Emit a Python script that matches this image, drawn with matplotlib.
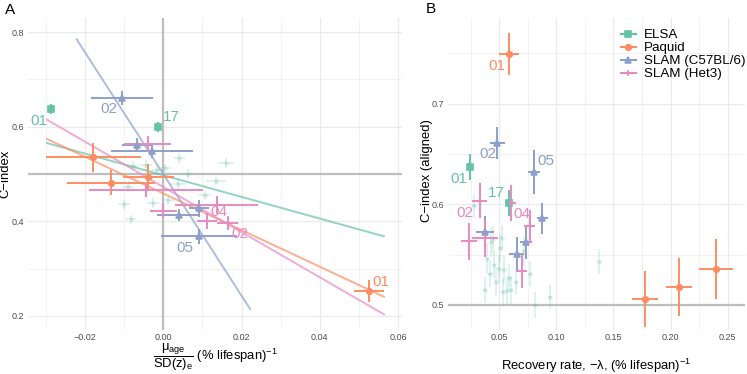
import matplotlib
matplotlib.use("Agg")
import matplotlib.pyplot as plt
from matplotlib.lines import Line2D
import numpy as np

plt.rcParams['font.family'] = ['Liberation Sans', 'DejaVu Sans']
plt.rcParams['mathtext.fontset'] = 'custom'
plt.rcParams['mathtext.rm'] = 'Liberation Sans'
plt.rcParams['mathtext.it'] = 'Liberation Sans:italic'
plt.rcParams['mathtext.bf'] = 'Liberation Sans:bold'
plt.rcParams['axes.unicode_minus'] = True

# ---------------- data ----------------
cohorts = ["ELSA", "Paquid", "SLAM (C57BL/6)", "SLAM (Het3)"]
colors = ["#66c2a5", "#fc8d62", "#8da0cb", "#e78ac3"]
markers = ["s", "o", "^", "+"]

# Panel A: highlighted points (x = mu_age/SD(z)_e, y = C-index)
A_elsa_x = [-0.0287, -0.0014]
A_elsa_xerr = [0.0004, 0.0004]
A_elsa_y = [0.637, 0.600]
A_elsa_yerr = [0.011, 0.011]
A_elsa_lab = ["01", "17"]

A_paq_x = [-0.0179, -0.0038, -0.0134, 0.0525]
A_paq_xerr = [0.0121, 0.0064, 0.0112, 0.0038]
A_paq_y = [0.535, 0.494, 0.482, 0.253]
A_paq_yerr = [0.030, 0.028, 0.026, 0.023]
A_paq_lab = ["", "", "", "01"]

A_c57_x = [-0.0106, -0.0068, -0.0030, 0.0091, 0.0039, 0.0091]
A_c57_xerr = [0.0079, 0.0037, 0.0105, 0.0025, 0.0054, 0.0098]
A_c57_y = [0.6605, 0.561, 0.549, 0.4275, 0.413, 0.368]
A_c57_yerr = [0.0155, 0.015, 0.016, 0.0175, 0.013, 0.0165]
A_c57_lab = ["02", "", "", "", "", "05"]

A_het_x = [-0.0040, -0.0045, 0.0000, 0.0136, 0.0111, 0.0164]
A_het_xerr = [0.0060, 0.0146, 0.0034, 0.0105, 0.0025, 0.0026]
A_het_y = [0.563, 0.466, 0.422, 0.435, 0.401, 0.396]
A_het_yerr = [0.0175, 0.015, 0.016, 0.0195, 0.0165, 0.015]
A_het_lab = ["", "", "", "04", "", "02"]

# Panel A: faint (non-highlighted) ELSA variables
A_bg_x = [0.0041, 0.0160, 0.0064, 0.0135, -0.0045, 0.0004, -0.0090, -0.0017,
          0.0038, 0.0107, -0.0026, -0.0100, -0.0083, 0.0011, -0.0077]
A_bg_y = [0.533, 0.523, 0.500, 0.485, 0.519, 0.512, 0.472, 0.508,
          0.479, 0.455, 0.439, 0.436, 0.404, 0.444, 0.517]
A_bg_xerr = [0.0015, 0.0020, 0.0020, 0.0025, 0.0015, 0.0015, 0.0015, 0.0015,
             0.0020, 0.0015, 0.0015, 0.0015, 0.0012, 0.0015, 0.0015]
A_bg_yerr = [0.011, 0.010, 0.011, 0.008, 0.010, 0.010, 0.010, 0.010,
             0.010, 0.010, 0.010, 0.010, 0.009, 0.010, 0.010]

# Panel A: regression lines (slope, intercept, x-range)
A_fit_slope = [-2.29, -3.875, -12.87, -4.78]
A_fit_icpt = [0.4973, 0.4588, 0.4997, 0.4726]
A_fit_xmin = [-0.030, -0.030, -0.0223, -0.030]
A_fit_xmax = [0.0566, 0.0566, 0.0223, 0.0566]

# Panel B: highlighted points (x = recovery rate, y = aligned C-index)
B_elsa_x = [0.0243, 0.0585]
B_elsa_xerr = [0.0008, 0.0008]
B_elsa_y = [0.637, 0.601]
B_elsa_yerr = [0.013, 0.013]
B_elsa_lab = ["01", "17"]

B_paq_x = [0.0588, 0.1776, 0.2074, 0.2398]
B_paq_xerr = [0.0087, 0.0114, 0.0113, 0.0150]
B_paq_y = [0.749, 0.506, 0.5176, 0.5357]
B_paq_yerr = [0.021, 0.028, 0.0287, 0.0295]
B_paq_lab = ["01", "", "", ""]

B_c57_x = [0.0483, 0.0807, 0.0877, 0.0375, 0.0734, 0.0652]
B_c57_xerr = [0.0065, 0.0051, 0.0047, 0.0077, 0.0055, 0.0068]
B_c57_y = [0.6606, 0.632, 0.586, 0.572, 0.562, 0.551]
B_c57_yerr = [0.016, 0.022, 0.0155, 0.016, 0.016, 0.016]
B_c57_lab = ["02", "05", "", "", "", ""]

B_het_x = [0.0331, 0.0602, 0.0769, 0.0375, 0.0237, 0.0696]
B_het_xerr = [0.0064, 0.0047, 0.0048, 0.0112, 0.0066, 0.0050]
B_het_y = [0.6036, 0.601, 0.578, 0.566, 0.563, 0.534]
B_het_yerr = [0.0175, 0.018, 0.0165, 0.018, 0.018, 0.017]
B_het_lab = ["02", "", "04", "", "", ""]

# Panel B: faint ELSA variables
B_bg_x = [0.0280, 0.0433, 0.0512, 0.0521, 0.0398, 0.0419, 0.0500, 0.0540, 0.0470,
          0.0375, 0.0565, 0.0608, 0.0530, 0.0769, 0.0646, 0.0716, 0.0813, 0.0944,
          0.1376, 0.0450, 0.0590, 0.0455]
B_bg_y = [0.598, 0.562, 0.556, 0.566, 0.546, 0.531, 0.536, 0.535, 0.523,
          0.515, 0.514, 0.515, 0.513, 0.531, 0.523, 0.553, 0.500, 0.508,
          0.543, 0.565, 0.527, 0.540]
B_bg_xerr = [0.0015] * 22
B_bg_yerr = [0.012, 0.014, 0.014, 0.013, 0.015, 0.013, 0.014, 0.014, 0.014,
             0.013, 0.014, 0.014, 0.014, 0.013, 0.013, 0.014, 0.013, 0.012,
             0.012, 0.013, 0.014, 0.013]

# label offsets (pixels) for annotated points
A_lab_off = {("ELSA", "01"): (-4, -12, "right"), ("ELSA", "17"): (5, 10, "left"),
             ("SLAM (C57BL/6)", "02"): (-5, -11, "right"),
             ("SLAM (C57BL/6)", "05"): (-6, -12, "right"),
             ("SLAM (Het3)", "04"): (-6, -7, "left"),
             ("SLAM (Het3)", "02"): (4, -11, "left"),
             ("Paquid", "01"): (4, 9, "left")}
B_lab_off = {("Paquid", "01"): (-4, -12, "right"),
             ("SLAM (C57BL/6)", "02"): (-1, -11, "right"),
             ("ELSA", "01"): (-2, -12, "right"),
             ("SLAM (C57BL/6)", "05"): (3, 11, "left"),
             ("ELSA", "17"): (-4, 10, "right"),
             ("SLAM (Het3)", "02"): (-6, -12, "right"),
             ("SLAM (Het3)", "04"): (0, 12, "right")}

A_series = [
    (A_elsa_x, A_elsa_xerr, A_elsa_y, A_elsa_yerr, A_elsa_lab),
    (A_paq_x, A_paq_xerr, A_paq_y, A_paq_yerr, A_paq_lab),
    (A_c57_x, A_c57_xerr, A_c57_y, A_c57_yerr, A_c57_lab),
    (A_het_x, A_het_xerr, A_het_y, A_het_yerr, A_het_lab),
]
B_series = [
    (B_elsa_x, B_elsa_xerr, B_elsa_y, B_elsa_yerr, B_elsa_lab),
    (B_paq_x, B_paq_xerr, B_paq_y, B_paq_yerr, B_paq_lab),
    (B_c57_x, B_c57_xerr, B_c57_y, B_c57_yerr, B_c57_lab),
    (B_het_x, B_het_xerr, B_het_y, B_het_yerr, B_het_lab),
]

# ---------------- figure ----------------
W, H = 747, 374
fig = plt.figure(figsize=(W / 100, H / 100), dpi=100)
axA = fig.add_axes([28 / W, 1 - 330 / H, (402 - 28) / W, (330 - 18) / H])
axB = fig.add_axes([448 / W, 1 - 330 / H, (745 - 448) / W, (330 - 18) / H])

grid_c = "#ebebeb"
ref_c = "#bebebe"
tick_c = "#4d4d4d"


def style(ax, xmaj, xmin_, ymaj, ymin_, xlim, ylim, xfmt, yfmt):
    ax.set_xlim(*xlim)
    ax.set_ylim(*ylim)
    for v in xmin_:
        ax.axvline(v, color=grid_c, lw=0.45, zorder=0)
    for v in ymin_:
        ax.axhline(v, color=grid_c, lw=0.45, zorder=0)
    for v in xmaj:
        ax.axvline(v, color=grid_c, lw=0.9, zorder=0)
    for v in ymaj:
        ax.axhline(v, color=grid_c, lw=0.9, zorder=0)
    ax.set_xticks(xmaj)
    ax.set_xticklabels([xfmt(v) for v in xmaj])
    ax.set_yticks(ymaj)
    ax.set_yticklabels([yfmt(v) for v in ymaj])
    ax.tick_params(length=0, pad=2.5, labelsize=6.5, labelcolor=tick_c)
    for s in ax.spines.values():
        s.set_visible(False)


def fmt2(v):
    return ("%.2f" % v).replace("-", "\u2212")


def fmt1(v):
    return "%.1f" % v


style(axA, [-0.02, 0.0, 0.02, 0.04, 0.06], [-0.03, -0.01, 0.01, 0.03, 0.05],
      [0.2, 0.4, 0.6, 0.8], [0.3, 0.5, 0.7],
      (-0.0346, 0.061), (0.170, 0.830), fmt2, fmt1)
style(axB, [0.05, 0.10, 0.15, 0.20, 0.25], [0.025, 0.075, 0.125, 0.175, 0.225],
      [0.5, 0.6, 0.7], [0.55, 0.65, 0.75],
      (0.0053, 0.265), (0.475, 0.785), fmt2, fmt1)

# reference lines
axA.axhline(0.5, color=ref_c, lw=1.6, zorder=1)
axA.axvline(0.0, color=ref_c, lw=1.6, zorder=1)
axB.axhline(0.5, color=ref_c, lw=1.6, zorder=1)

# faint ELSA background
for ax, bx, by, bxe, bye in [(axA, A_bg_x, A_bg_y, A_bg_xerr, A_bg_yerr),
                             (axB, B_bg_x, B_bg_y, B_bg_xerr, B_bg_yerr)]:
    ax.errorbar(bx, by, xerr=bxe, yerr=bye, fmt="s", color=colors[0], ms=3,
                lw=1.3, alpha=0.22, capsize=0, zorder=2, mec="none")

# regression lines (panel A)
for i in range(4):
    xs = np.array([A_fit_xmin[i], A_fit_xmax[i]])
    axA.plot(xs, A_fit_icpt[i] + A_fit_slope[i] * xs, color=colors[i],
             lw=1.4, alpha=0.7, zorder=3, solid_capstyle="butt")

# highlighted points
for ax, series, offs in [(axA, A_series, A_lab_off), (axB, B_series, B_lab_off)]:
    for i, (x, xe, y, ye, labs) in enumerate(series):
        mk = markers[i]
        ax.errorbar(x, y, xerr=xe, yerr=ye, fmt=mk, color=colors[i],
                    ms=4 if mk != "+" else 5, mew=1.2, lw=1.4, capsize=0,
                    zorder=4)
        for xx, yy, lab in zip(x, y, labs):
            if lab:
                dx, dy, ha = offs[(cohorts[i], lab)]
                ax.annotate(lab, (xx, yy), xytext=(dx, dy),
                            textcoords="offset pixels", ha=ha, va="center",
                            color=colors[i], fontsize=11, zorder=5)

# axis labels
axA.set_ylabel("C\u2212index", fontsize=9.4)
axA.yaxis.set_label_coords(-0.045, 0.5)
axA.set_xlabel(r"$\dfrac{\mathrm{\mu}_{\mathrm{age}}}{\mathrm{SD(z)}_{\mathrm{e}}}$"
               r" (% lifespan)$^{-1}$", fontsize=9.4)
axA.xaxis.set_label_coords(0.5, -0.038)
axA.xaxis.label.set_verticalalignment("top")
axB.set_ylabel("C\u2212index (aligned)", fontsize=9.4)
axB.yaxis.set_label_coords(-0.052, 0.51)
axB.set_xlabel("Recovery rate, \u2212\u03bb, (% lifespan)$^{-1}$", fontsize=9.4,
               labelpad=10)

# legend
handles = [Line2D([0], [0], color=colors[i], marker=markers[i], lw=1.5,
                  ms=4 if markers[i] != "+" else 5, mew=1.2) for i in range(4)]
fig.legend(handles, cohorts, loc="upper left", bbox_to_anchor=(621 / W, 1 - 29 / H),
           frameon=False, fontsize=9.6, borderpad=0, borderaxespad=0,
           handlelength=1.1, handletextpad=0.6, labelspacing=0.05)

# panel tags
fig.text(5 / W, 1 - 3 / H, "A", fontsize=11, va="top", ha="left")
fig.text(426 / W, 1 - 2 / H, "B", fontsize=11, va="top", ha="left")

fig.savefig("out.png", dpi=100)
